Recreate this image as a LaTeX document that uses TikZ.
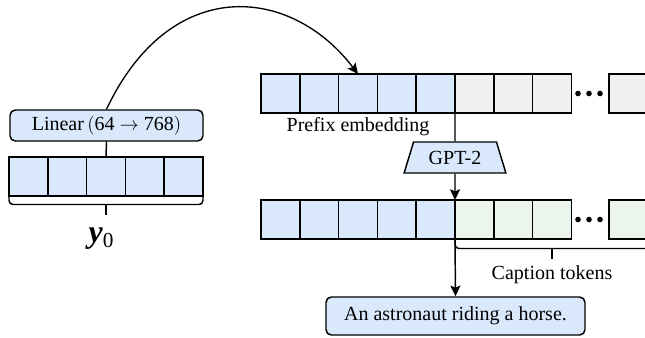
\documentclass[tikz,border=0pt]{standalone}
\usepackage{fontspec}
\setmainfont{Liberation Serif}
\usepackage{tikz}
\usetikzlibrary{arrows.meta}
\usetikzlibrary{positioning,shapes.geometric}

\definecolor{bluefill}{HTML}{DAE8FC}
\definecolor{grayfill}{HTML}{F0F0F0}
\definecolor{greenfill}{HTML}{EBF5EB}

\begin{document}
\begin{tikzpicture}[x=0.75pt,y=-0.75pt,>={Stealth[length=8pt,width=7.5pt,inset=1.5pt]},line width=1.1pt,node distance=0pt,
                    every node/.style={font=\fontsize{15}{18}\selectfont},
                    cell/.style={draw,minimum width=29.1pt,minimum height=29.25pt,inner sep=0pt,outer sep=0pt},
                    blue cell/.style={cell,fill=bluefill},
                    gray cell/.style={cell,fill=grayfill},
                    green cell/.style={cell,fill=greenfill},
                    block/.style={draw,fill=bluefill,rounded corners=4pt,inner sep=0pt}]
  \clip (0,0) rectangle (645,337);

  % left vector and linear layer
  \node[blue cell] (l1) at (28.4,176.5) {};
  \foreach \i [count=\j from 1] in {2,...,5}
    \node[blue cell,right=of l\j] (l\i) {};
  \node[block,minimum width=144.75pt,minimum height=23.25pt] (lin) at (106.5,125.5)
    {Linear\,$\bigl($64 $\rightarrow$ 768$\bigr)$};
  \draw (lin.south) -- (l3.north);
  \draw[rounded corners=3pt] (l1.south west) -- ++(0,8.5) -| (l5.south east);
  \draw (l3.south) ++(0,8.5) -- ++(0,10.5);
  \node (y0) at (101,239) {\fontsize{24}{26}\selectfont\bfseries\itshape y\raisebox{-3.5pt}{\fontsize{16}{18}\selectfont\normalfont 0}};

  % prefix + input tokens
  \node[blue cell] (t1) at (280.4,93.5) {};
  \foreach \i [count=\j from 1] in {2,...,5}
    \node[blue cell,right=of t\j] (t\i) {};
  \foreach \i [count=\j from 5] in {6,...,8}
    \node[gray cell,right=of t\j] (t\i) {};
  \node[gray cell] (t9) at (628.4,93.5) {};
  \node (pre) at (358,127) {Prefix embedding};

  % curved arrow
  \draw[->,line width=1pt] (lin.north) .. controls (170,-25) and (290,-15) .. (t3.north);

  % GPT-2
  \node[trapezium,draw,fill=bluefill,trapezium left angle=66,trapezium right angle=66,
        trapezium stretches=true,minimum width=76.5pt,minimum height=23.25pt,inner sep=0pt]
        (gpt) at (455,157.5) {GPT-2};
  \draw (t5.south east) -- (gpt.north);

  % output tokens
  \node[blue cell] (c1) at (280.4,219.5) {};
  \foreach \i [count=\j from 1] in {2,...,5}
    \node[blue cell,right=of c\j] (c\i) {};
  \foreach \i [count=\j from 5] in {6,...,8}
    \node[green cell,right=of c\j] (c\i) {};
  \node[green cell] (c9) at (628.4,219.5) {};
  \draw[->] (gpt.south) -- (c5.north east);

  % dots
  \foreach \y in {93.5,219.5}
    \foreach \x in {578,589,600}
      \fill (\x,\y) circle (2.1pt);

  % caption tokens brace
  \coordinate (capr) at (650,248.5);
  \draw[rounded corners=3pt] (c5.south east) -- ++(0,9.5) -- (capr);
  \draw (552,248.5) -- ++(0,10);
  \node (captok) at (552,275) {Caption tokens};

  % caption
  \node[block,minimum width=194.25pt,minimum height=28.5pt] (cap) at (455.5,316)
    {An astronaut riding a horse.};
  \draw[->] (c5.south east) -- (cap.north);
\end{tikzpicture}
\end{document}
